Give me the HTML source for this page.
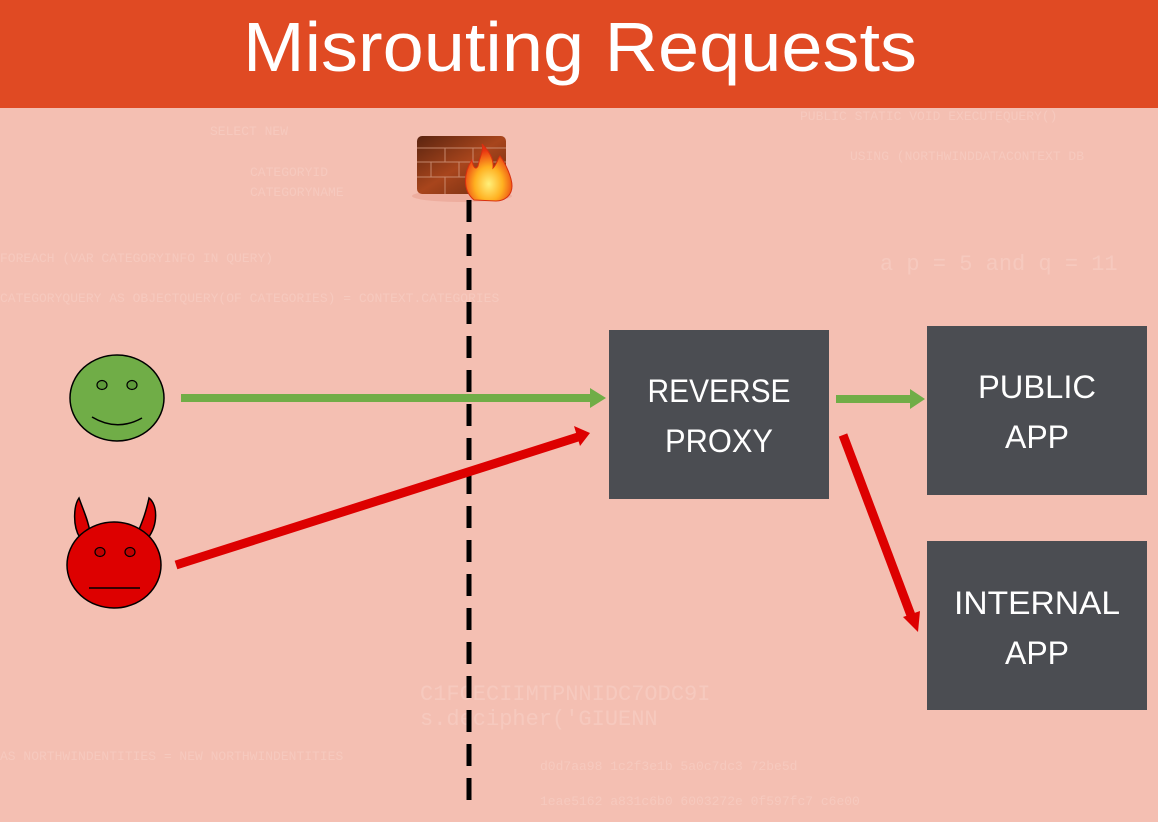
<!DOCTYPE html>
<html><head><meta charset="utf-8"><style>
html,body{margin:0;padding:0;width:1158px;height:822px;overflow:hidden;background:#f4bfb2}
svg{display:block}
</style></head><body>
<svg width="1158" height="822" viewBox="0 0 1158 822" xmlns="http://www.w3.org/2000/svg">
<defs>
<linearGradient id="brick" x1="0" y1="0" x2="1" y2="1"><stop offset="0" stop-color="#5a2410"/><stop offset="0.5" stop-color="#a8451c"/><stop offset="1" stop-color="#6b2a10"/></linearGradient>
<radialGradient id="fire" cx="0.5" cy="0.7" r="0.6"><stop offset="0" stop-color="#fff07a"/><stop offset="0.5" stop-color="#ffb020"/><stop offset="1" stop-color="#e83010"/></radialGradient>
</defs>
<rect x="0" y="0" width="1158" height="822" fill="#f4bfb2"/>
<g fill="#f8d3ca" font-family="Liberation Mono, monospace" font-size="13" opacity="0.5">
<text x="210" y="135">SELECT NEW</text>
<text x="250" y="176">CATEGORYID</text>
<text x="250" y="196">CATEGORYNAME</text>
<text x="0" y="262">FOREACH (VAR CATEGORYINFO IN QUERY)</text>
<text x="0" y="302">CATEGORYQUERY AS OBJECTQUERY(OF CATEGORIES) = CONTEXT.CATEGORIES</text>
<text x="850" y="160">USING (NORTHWINDDATACONTEXT DB</text>
<text x="800" y="120">PUBLIC STATIC VOID EXECUTEQUERY()</text>
<text x="420" y="700" font-size="22">C1FCECIIMTPNNIDC7ODC9I</text>
<text x="420" y="725" font-size="22">s.decipher('GIUENN</text>
<text x="540" y="770">d0d7aa98 1c2f3e1b 5a0c7dc3 72be5d</text>
<text x="540" y="805">1eae5162 a831c6b0 6003272e 0f597fc7 c6e00</text>
<text x="0" y="760">AS NORTHWINDENTITIES = NEW NORTHWINDENTITIES</text>
<text x="880" y="270" font-size="22">a p = 5 and q = 11</text>
</g>
<rect x="0" y="0" width="1158" height="108" fill="#e04a23"/>
<text x="243" y="71" fill="#fff" font-family="Liberation Sans, sans-serif" font-size="70" textLength="674" lengthAdjust="spacingAndGlyphs">Misrouting Requests</text>
<!-- firewall -->
<ellipse cx="462" cy="196" rx="50" ry="6" fill="#e9a596" opacity="0.7"/>
<rect x="417" y="136" width="89" height="58" rx="5" fill="url(#brick)"/>
<g stroke="#d49a80" stroke-width="1" opacity="0.8">
<line x1="417" y1="148" x2="506" y2="148"/><line x1="417" y1="162" x2="506" y2="162"/><line x1="417" y1="177" x2="506" y2="177"/>
<line x1="445" y1="148" x2="445" y2="162"/><line x1="473" y1="148" x2="473" y2="162"/>
<line x1="431" y1="162" x2="431" y2="177"/><line x1="459" y1="162" x2="459" y2="177"/><line x1="489" y1="162" x2="489" y2="177"/>
<line x1="445" y1="177" x2="445" y2="194"/><line x1="473" y1="177" x2="473" y2="194"/>
</g>
<path d="M474 200 C462 190 464 172 472 160 C473 168 476 170 478 166 C480 156 484 150 482 144 C490 152 494 160 493 168 C497 164 498 158 500 156 C506 164 512 178 512 186 C512 196 504 201 496 201 Z" fill="url(#fire)" stroke="#d83010" stroke-width="1"/>
<!-- dashed line -->
<line x1="469" y1="200" x2="469" y2="808" stroke="#000" stroke-width="5" stroke-dasharray="22 12"/>
<!-- boxes -->
<rect x="609" y="330" width="220" height="169" fill="#4b4d52"/>
<rect x="927" y="326" width="220" height="169" fill="#4b4d52"/>
<rect x="927" y="541" width="220" height="169" fill="#4b4d52"/>
<g fill="#fff" font-family="Liberation Sans, sans-serif" font-size="32" text-anchor="middle">
<text x="719" y="402" textLength="143" lengthAdjust="spacingAndGlyphs">REVERSE</text><text x="719" y="452" textLength="108" lengthAdjust="spacingAndGlyphs">PROXY</text>
<text x="1037" y="398" textLength="118" lengthAdjust="spacingAndGlyphs">PUBLIC</text><text x="1037" y="448" textLength="64" lengthAdjust="spacingAndGlyphs">APP</text>
<text x="1037" y="614" textLength="166" lengthAdjust="spacingAndGlyphs">INTERNAL</text><text x="1037" y="664" textLength="64" lengthAdjust="spacingAndGlyphs">APP</text>
</g>
<!-- arrows -->
<line x1="181" y1="398" x2="592" y2="398" stroke="#70ad47" stroke-width="8"/>
<polygon points="590,388 606,398 590,408" fill="#70ad47"/>
<line x1="836" y1="399" x2="912" y2="399" stroke="#70ad47" stroke-width="8"/>
<polygon points="910,389 925,399 910,409" fill="#70ad47"/>
<line x1="176" y1="565" x2="578" y2="437" stroke="#dd0000" stroke-width="9"/>
<polygon points="574,426 590,433 580,446" fill="#dd0000"/>
<line x1="843" y1="435" x2="912" y2="618" stroke="#dd0000" stroke-width="9"/>
<polygon points="903,617 918,632 920,611" fill="#dd0000"/>
<!-- green face -->
<ellipse cx="117" cy="398" rx="47" ry="43" fill="#70ad47" stroke="#000" stroke-width="1.5"/>
<ellipse cx="102" cy="385" rx="5" ry="4.5" fill="#5e9a3a" stroke="#000" stroke-width="1.2"/>
<ellipse cx="132" cy="385" rx="5" ry="4.5" fill="#5e9a3a" stroke="#000" stroke-width="1.2"/>
<path d="M92 417 Q117 432 142 418" fill="none" stroke="#000" stroke-width="1.5"/>
<!-- devil -->
<path d="M80 538 C72 525 74 505 79 498 C84 512 88 520 90 532 Z" fill="#dd0000" stroke="#000" stroke-width="1.5"/>
<path d="M148 538 C158 525 158 505 149 498 C146 512 143 520 138 532 Z" fill="#dd0000" stroke="#000" stroke-width="1.5"/>
<ellipse cx="114" cy="565" rx="47" ry="43" fill="#dd0000" stroke="#000" stroke-width="1.5"/>
<ellipse cx="100" cy="552" rx="5" ry="4.5" fill="#c00000" stroke="#000" stroke-width="1.2"/>
<ellipse cx="130" cy="552" rx="5" ry="4.5" fill="#c00000" stroke="#000" stroke-width="1.2"/>
<line x1="89" y1="588" x2="140" y2="588" stroke="#000" stroke-width="1.5"/>
</svg>
</body></html>
